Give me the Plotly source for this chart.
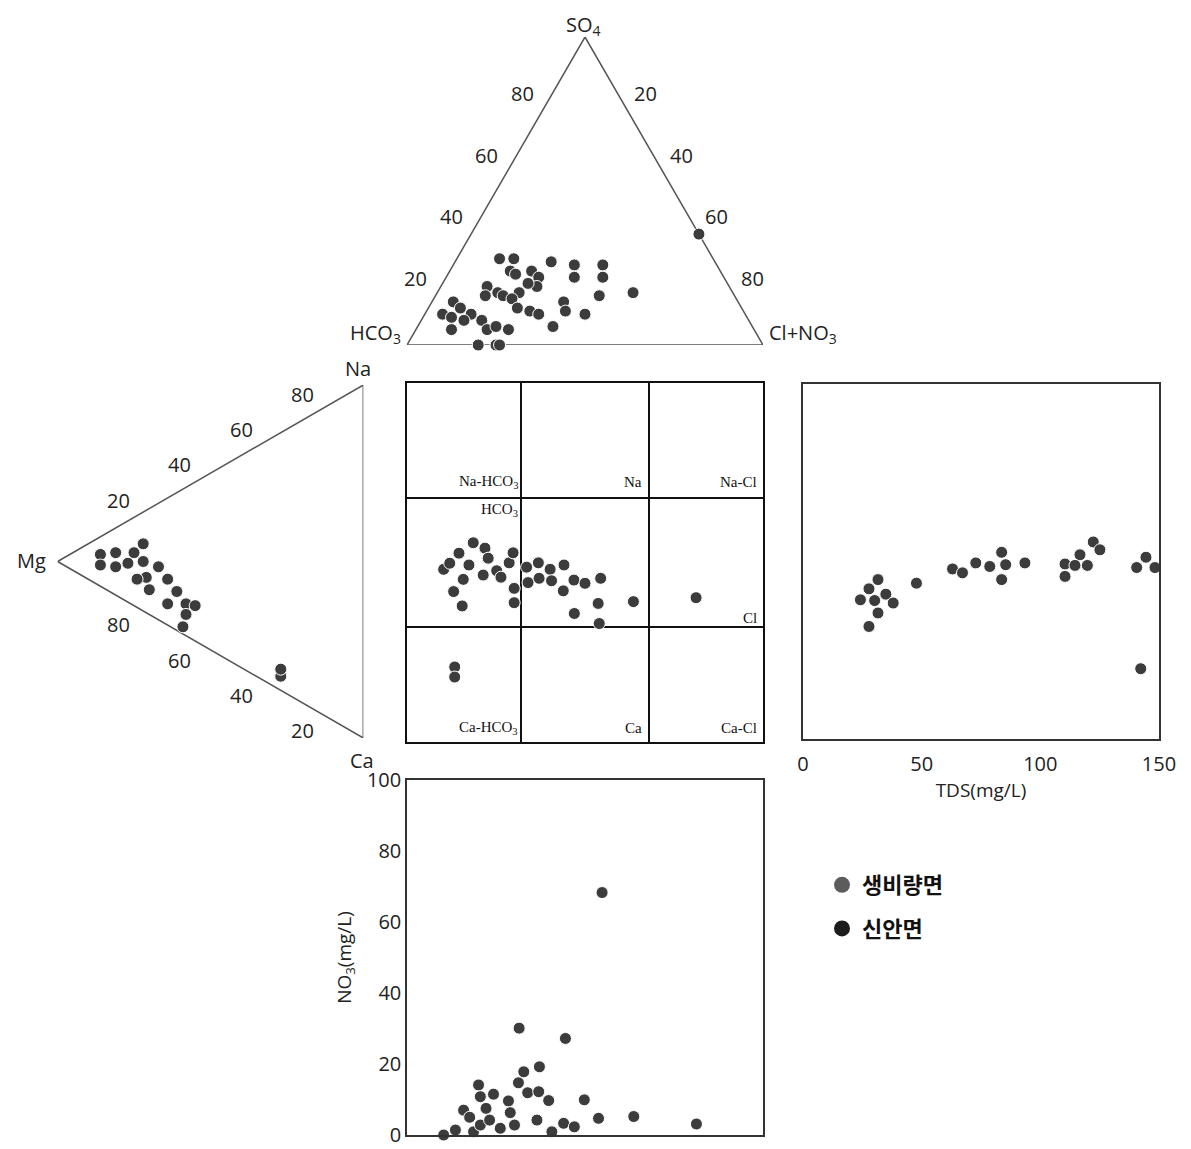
import plotly.graph_objects as go

W, H = 1191, 1149

# ---------- Data ----------
# anion triangle (%): SO4 top, HCO3 left, Cl+NO3 right
anion_so4 = [28, 28, 27, 26, 22, 26, 22, 24, 23, 24, 22, 19, 20, 17, 19, 17, 16, 16, 15, 12, 11, 10,
             14, 11, 10, 16, 14, 12, 10, 10, 8, 9, 8, 5, 5, 6, 5, 6, 0, 0, 0, 36, 17]
anion_cl = [12, 16, 27, 34, 36, 42, 44, 17, 19, 23, 26, 27, 24, 23, 13, 17, 19, 14, 22, 25, 29, 32,
            37, 39, 45, 46, 6, 9, 5, 13, 12, 8, 17, 10, 20, 22, 26, 38, 20, 25, 26, 64, 55]
anion_hco3 = [60, 56, 46, 40, 42, 32, 34, 59, 58, 53, 52, 54, 56, 60, 68, 66, 65, 70, 63, 63, 60, 58,
              49, 50, 45, 38, 80, 79, 85, 77, 80, 83, 75, 85, 75, 72, 69, 56, 80, 75, 74, 0, 28]

# cation triangle (%): Mg left, Na top, Ca bottom
cation_na = [19, 12, 9, 6, 8, 11, 15, 14, 15, 10, 8, 13, 7, 11, 6, 9, 10, 6, 2, 4, 6]
cation_mg = [72, 81, 86, 86, 81, 77, 75, 72, 67, 71, 74, 64, 70, 61, 64, 58, 55, 58, 59, 27, 27]
cation_ca = [9, 7, 5, 8, 11, 12, 10, 14, 18, 19, 18, 23, 23, 28, 30, 33, 35, 36, 39, 69, 67]

# central square (%)
sq_x = [18.6, 14.6, 21.9, 22.8, 17.4, 10.3, 12.0, 25.2, 21.4, 15.8, 26.4, 28.7, 29.8, 13.1, 15.5, 30.1,
        30.1, 33.6, 36.9, 40.2, 44.1, 37.1, 40.6, 34.0, 46.9, 50.0, 54.4, 43.9, 53.7, 47.0, 54.0, 63.6,
        81.2, 13.4, 13.4]
sq_y = [55.5, 52.6, 54.0, 51.2, 49.3, 48.1, 49.8, 47.7, 46.5, 45.3, 45.9, 49.9, 52.7, 41.9, 37.9, 42.8,
        38.8, 48.7, 49.9, 48.1, 49.3, 45.6, 44.9, 44.4, 45.1, 44.2, 45.6, 42.1, 38.6, 35.8, 33.0, 39.1,
        40.2, 20.9, 18.1]

# TDS square
tds = [31.6, 27.8, 24.2, 30.2, 34.9, 38.0, 31.6, 27.8, 47.8, 63.0, 67.2, 72.8, 78.7, 83.7, 85.4, 83.7,
       93.5, 110.4, 110.4, 116.7, 119.8, 122.3, 125.1, 140.6, 144.5, 148.3, 142.3, 114.6]
tds_y = [44.9, 42.3, 39.2, 39.0, 40.8, 38.3, 35.5, 31.7, 43.9, 47.9, 46.8, 49.6, 48.6, 52.6, 49.1, 44.9,
         49.6, 49.3, 45.8, 51.9, 48.9, 55.5, 53.3, 48.3, 51.2, 48.3, 19.8, 48.9]

# NO3 square
no3_x = [54.8, 31.5, 44.5, 37.2, 32.8, 31.3, 20.1, 20.6, 24.3, 22.2, 28.5, 33.9, 37.0, 39.8, 49.8, 15.9,
         36.5, 44.0, 47.0, 53.8, 63.7, 81.3, 40.7, 30.2, 26.2, 18.7, 13.6, 10.3, 29.0, 20.6, 23.2, 17.6]
no3 = [68.3, 30.1, 27.2, 19.2, 17.8, 14.7, 14.1, 10.8, 11.5, 7.5, 9.6, 11.9, 12.2, 9.7, 9.9, 7.0,
       4.2, 3.3, 2.3, 4.7, 5.2, 3.1, 0.9, 2.8, 1.9, 0.9, 1.4, 0.0, 6.3, 2.8, 4.2, 5.0]

groups = ["생비량면", "신안면"]
group_colors = ["#5c5c5c", "#1c1c1c"]
tri_ticks = [20, 40, 60, 80]
tds_ticks = [0, 50, 100, 150]
no3_ticks = [0, 20, 40, 60, 80, 100]
class_lines = [32, 68]

FONT = "Open Sans"
SERIF = "Liberation Serif"
MARK = dict(size=12, color="#3c3c3c", line=dict(color="white", width=1))
TRI_LINE = dict(color="#555555", width=1.5)
OFF = 8  # page body margin in px


# ---------- helpers ----------
def dom_x(x0, x1):
    return [(x0 - OFF) / W, (x1 - OFF) / W]


def dom_y(top, bottom):
    return [1 - (bottom - OFF) / H, 1 - (top - OFF) / H]


def anion_xy(so4, hco3, cl):
    # SO4 apex on top, HCO3 bottom left, Cl+NO3 bottom right
    s = so4 + hco3 + cl
    return (cl + so4 / 2) / s * 100, 0.866 * so4 / s * 100


def cation_xy(na, mg, ca):
    # rotated triangle: Mg vertex left, Na top right, Ca bottom right
    s = na + mg + ca
    return 0.866 * (na + ca) / s * 100, (na + mg / 2) / s * 100


fig = go.Figure()

# --- Top triangle (anions) ---
verts = [anion_xy(0, 100, 0), anion_xy(0, 0, 100), anion_xy(100, 0, 0), anion_xy(0, 100, 0)]
fig.add_trace(go.Scatter(x=[v[0] for v in verts], y=[v[1] for v in verts], mode="lines", line=TRI_LINE,
                         xaxis="x6", yaxis="y6", showlegend=False, hoverinfo="skip", cliponaxis=False))
pts = [anion_xy(a, b, c) for a, b, c in zip(anion_so4, anion_hco3, anion_cl)]
fig.add_trace(go.Scatter(x=[p[0] for p in pts], y=[p[1] for p in pts], mode="markers", marker=MARK,
                         xaxis="x6", yaxis="y6", showlegend=False, cliponaxis=False))

# --- Left triangle (cations) ---
verts = [cation_xy(0, 100, 0), cation_xy(100, 0, 0), cation_xy(0, 0, 100), cation_xy(0, 100, 0)]
fig.add_trace(go.Scatter(x=[v[0] for v in verts], y=[v[1] for v in verts], mode="lines", line=TRI_LINE,
                         xaxis="x2", yaxis="y2", showlegend=False, hoverinfo="skip", cliponaxis=False))
pts = [cation_xy(a, b, c) for a, b, c in zip(cation_na, cation_mg, cation_ca)]
fig.add_trace(go.Scatter(x=[p[0] for p in pts], y=[p[1] for p in pts], mode="markers", marker=MARK,
                         xaxis="x2", yaxis="y2", showlegend=False, cliponaxis=False))

# --- Central square ---
fig.add_trace(go.Scatter(x=sq_x, y=sq_y, mode="markers", marker=MARK, xaxis="x3", yaxis="y3",
                         showlegend=False, cliponaxis=False))

# --- TDS square ---
fig.add_trace(go.Scatter(x=tds, y=tds_y, mode="markers", marker=MARK, xaxis="x4", yaxis="y4",
                         showlegend=False, cliponaxis=False))

# --- NO3 square ---
fig.add_trace(go.Scatter(x=no3_x, y=no3, mode="markers", marker=MARK, xaxis="x5", yaxis="y5",
                         showlegend=False, cliponaxis=False))

# --- legend entries ---
for g, col in zip(groups, group_colors):
    fig.add_trace(go.Scatter(x=[None], y=[None], mode="markers", name=g, legendgroup=g,
                             marker=dict(size=18, color=col), xaxis="x4", yaxis="y4"))

# ---------- annotations ----------
ann = []
tfont = dict(size=20, color="#222", family=FONT)
for t in tri_ticks:
    # anion triangle: SO4 on left edge, Cl+NO3 on right edge
    x, y = anion_xy(t, 100 - t, 0)
    ann.append(dict(x=x, y=y, xref="x6", yref="y6", text=str(t), showarrow=False,
                    xshift=-27, yshift=5, font=tfont))
    x, y = anion_xy(100 - t, 0, t)
    ann.append(dict(x=x, y=y, xref="x6", yref="y6", text=str(t), showarrow=False,
                    xshift=25, yshift=5, font=tfont))
    # cation triangle: Na on upper edge, Mg on lower edge
    x, y = cation_xy(t, 100 - t, 0)
    ann.append(dict(x=x, y=y, xref="x2", yref="y2", text=str(t), showarrow=False,
                    yshift=26, font=tfont))
    x, y = cation_xy(0, t, 100 - t)
    ann.append(dict(x=x, y=y, xref="x2", yref="y2", text=str(t), showarrow=False,
                    yshift=-28, font=tfont))


def pann(x, y, text, xanchor="center"):
    return dict(x=(x - OFF) / W, y=1 - (y - OFF) / H, xref="paper", yref="paper", text=text,
                showarrow=False, font=tfont, xanchor=xanchor, yanchor="middle")


ann += [
    pann(583, 25, "SO<sub>4</sub>"),
    pann(403, 333, "HCO<sub>3</sub>", xanchor="right"),
    pann(767, 333, "Cl+NO<sub>3</sub>", xanchor="left"),
    pann(358, 368, "Na"),
    pann(48, 560, "Mg", xanchor="right"),
    pann(362, 760, "Ca"),
]

# central square class labels: (text, x, y, xshift, yshift)
sfont = dict(size=15, color="#111", family=SERIF)
cls = [("Na-HCO<sub>3</sub>", 32, 68, -1, 16), ("Na", 68, 68, -5, 16), ("Na-Cl", 100, 68, -4, 16),
       ("HCO<sub>3</sub>", 32, 68, -1, -12), ("Cl", 100, 32, -4, 9),
       ("Ca-HCO<sub>3</sub>", 32, 0, -1, 14), ("Ca", 68, 0, -5, 14), ("Ca-Cl", 100, 0, -4, 14)]
for txt, x, y, dx, dy in cls:
    ann.append(dict(x=x, y=y, xref="x3", yref="y3", text=txt, showarrow=False, xanchor="right",
                    yanchor="middle", xshift=dx, yshift=dy, font=sfont))

# ---------- layout ----------
box = dict(showline=True, mirror=True, linecolor="#333333", linewidth=1.5, zeroline=False, showgrid=False)
grid = dict(tickvals=class_lines, showticklabels=False, showline=True, mirror=True, linecolor="#111",
            linewidth=1.5, showgrid=True, gridcolor="#111", gridwidth=1.5, zeroline=False)

fig.update_layout(
    width=W, height=H, autosize=False,
    margin=dict(l=0, r=0, t=0, b=0, autoexpand=False),
    paper_bgcolor="white", plot_bgcolor="white",
    font=dict(family=FONT, color="#222"),
    xaxis6=dict(domain=dom_x(407, 763), range=[0, 100], visible=False, anchor="y6"),
    yaxis6=dict(domain=dom_y(37, 345), range=[0, 86.6], visible=False, anchor="x6"),
    xaxis2=dict(domain=dom_x(57.6, 363.3), range=[0, 86.6], visible=False, anchor="y2"),
    yaxis2=dict(domain=dom_y(385, 738), range=[0, 100], visible=False, anchor="x2"),
    xaxis3=dict(domain=dom_x(407, 763), range=[0, 100], anchor="y3", **grid),
    yaxis3=dict(domain=dom_y(383, 742), range=[0, 100], anchor="x3", **grid),
    xaxis4=dict(domain=dom_x(803, 1159), range=[0, 150], anchor="y4", tickvals=tds_ticks,
                ticks="outside", ticklen=6, tickcolor="rgba(0,0,0,0)", tickfont=dict(size=20),
                title=dict(text="TDS(mg/L)", font=dict(size=19), standoff=2), **box),
    yaxis4=dict(domain=dom_y(384, 739), range=[0, 100], anchor="x4", showticklabels=False, **box),
    xaxis5=dict(domain=dom_x(407, 763), range=[0, 100], anchor="y5", showticklabels=False, **box),
    yaxis5=dict(domain=dom_y(780, 1135), range=[0, 100], anchor="x5", tickvals=no3_ticks,
                tickfont=dict(size=20), title=dict(text="NO<sub>3</sub>(mg/L)", font=dict(size=19), standoff=10),
                **box),
    legend=dict(x=(822 - OFF) / W, y=1 - (864 - OFF) / H, xanchor="left", yanchor="top",
                bgcolor="rgba(0,0,0,0)",
                font=dict(size=22, family="Noto Sans CJK KR", color="#111", weight="bold"),
                tracegroupgap=12),
    annotations=ann,
)

fig.write_html("out.html")
